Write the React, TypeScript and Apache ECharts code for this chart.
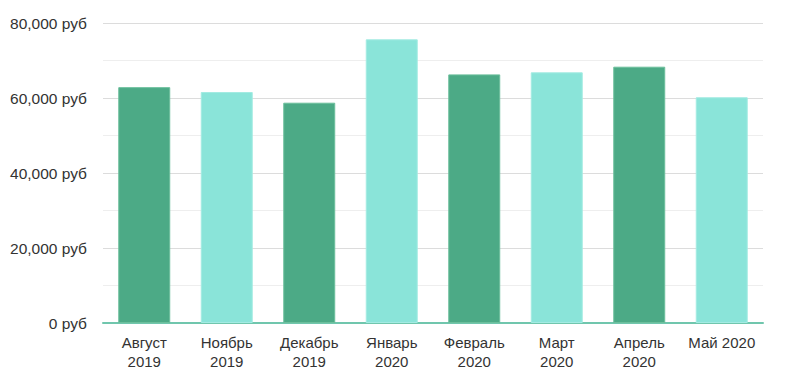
import React, { useEffect, useRef } from "react";
import * as echarts from "echarts";

const categories = [
  "Август\n2019",
  "Ноябрь\n2019",
  "Декабрь\n2019",
  "Январь\n2020",
  "Февраль\n2020",
  "Март\n2020",
  "Апрель\n2020",
  "Май 2020",
];
const values = [62900, 61600, 58750, 75650, 66300, 66850, 68350, 60200];
const barColors = ["#4caa86", "#8ae4d9"];
const borderColors = ["#6cbf9c", "#a3ebe2"];

export default function App() {
  const ref = useRef<HTMLDivElement>(null);
  useEffect(() => {
    if (!ref.current) return;
    const chart = echarts.init(ref.current, null, { renderer: "svg" });
    chart.setOption({
      animation: false,
      grid: { left: 103, right: 25, top: 23, bottom: 62 },
      xAxis: {
        type: "category",
        data: categories,
        axisLine: { show: true, lineStyle: { color: "#70c6ad", width: 2 } },
        axisTick: { show: false },
        axisLabel: {
          interval: 0,
          hideOverlap: false,
          color: "#333",
          fontSize: 15,
          fontFamily: "Liberation Sans, Arial, sans-serif",
          lineHeight: 19,
          margin: 10,
        },
      },
      yAxis: {
        type: "value",
        min: 0,
        max: 80000,
        interval: 20000,
        axisLine: { show: false },
        axisTick: { show: false },
        axisLabel: {
          color: "#333",
          fontSize: 15.5,
          fontFamily: "Liberation Sans, Arial, sans-serif",
          margin: 16,
          formatter: (v: number) => v.toLocaleString("en-US") + " руб",
        },
        splitLine: { lineStyle: { color: "#dcdcdc", width: 1 } },
        minorTick: { show: false, splitNumber: 2 },
        minorSplitLine: { show: true, lineStyle: { color: "#eeeeee", width: 1 } },
      },
      series: [
        {
          type: "bar",
          barWidth: "63%",
          data: values.map((v, i) => ({
            value: v,
            itemStyle: {
              color: barColors[i % 2],
              borderColor: borderColors[i % 2],
              borderWidth: 1,
            },
          })),
        },
      ],
    });
    return () => chart.dispose();
  }, []);
  return <div ref={ref} style={{ width: 788, height: 385, position: "absolute", left: 0, top: 0 }} />;
}
